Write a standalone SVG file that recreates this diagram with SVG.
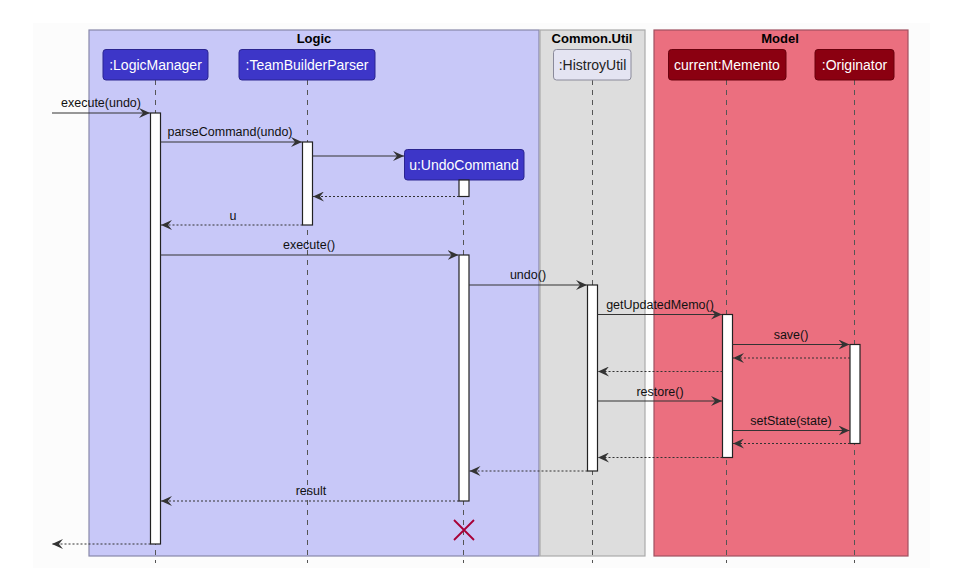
<svg xmlns="http://www.w3.org/2000/svg" width="959" height="570" viewBox="0 0 959 570">
<defs>
<style>
text{font-family:"Liberation Sans",Arial,sans-serif;}
.grp{stroke-width:1.2;}
.gt{font-size:13px;font-weight:bold;fill:#000;text-anchor:middle;}
.pt{font-size:14px;text-anchor:middle;fill:#fff;}
.ll{stroke:#555;stroke-width:1;stroke-dasharray:5,5;fill:none;}
.act{fill:#fff;stroke:#222;stroke-width:1.2;}
.msg{stroke:#333;stroke-width:1.2;fill:none;}
.ret{stroke:#333;stroke-width:1.2;fill:none;stroke-dasharray:2,2;}
.ml{font-size:12.5px;fill:#111;text-anchor:middle;}
</style>
<marker id="ah" viewBox="0 0 12 10" refX="11" refY="5" markerWidth="12" markerHeight="10" markerUnits="userSpaceOnUse" orient="auto">
<path d="M0,0 L11,5 L0,10 L4,5 Z" fill="#333"/>
</marker>
</defs>
<rect width="959" height="570" fill="#ffffff"/>
<rect x="33" y="23" width="897" height="545" fill="#fcfcfc"/>
<g id="group-logic">
<rect class="grp" x="89" y="30" width="450" height="526" fill="#C8C8F8" stroke="#8888aa"/>
<text class="gt" x="314" y="43">Logic</text>
</g>
<g id="group-common-util">
<rect class="grp" x="540" y="30" width="105" height="526" fill="#DDDDDD" stroke="#aaaaaa"/>
<text class="gt" x="592" y="43">Common.Util</text>
</g>
<g id="group-model">
<rect class="grp" x="654" y="30" width="254" height="526" fill="#EB6F7F" stroke="#a05060"/>
<text class="gt" x="780" y="43">Model</text>
</g>
<g id="lifelines">
<line class="ll" x1="155.5" y1="80" x2="155.5" y2="563"/>
<line class="ll" x1="307.5" y1="80" x2="307.5" y2="563"/>
<line class="ll" x1="463.5" y1="180" x2="463.5" y2="563"/>
<line class="ll" x1="592.5" y1="80" x2="592.5" y2="563"/>
<line class="ll" x1="726.5" y1="80" x2="726.5" y2="563"/>
<line class="ll" x1="854.5" y1="80" x2="854.5" y2="563"/>
</g>
<g id="LogicManager">
<rect x="103" y="49.5" width="105" height="30.5" rx="3" fill="#3D36C8" stroke="#2a2490"/>
<text class="pt" x="155.5" y="70">:LogicManager</text>
<rect class="act" x="150.5" y="113" width="10" height="431"/>
</g>
<g id="TeamBuilderParser">
<rect x="239" y="49.5" width="136" height="30.5" rx="3" fill="#3D36C8" stroke="#2a2490"/>
<text class="pt" x="307" y="70">:TeamBuilderParser</text>
<rect class="act" x="302.5" y="142" width="10" height="83"/>
</g>
<g id="UndoCommand">
<rect x="404.5" y="149.5" width="119.5" height="30.5" rx="3" fill="#3D36C8" stroke="#2a2490"/>
<text class="pt" x="464" y="170">u:UndoCommand</text>
<rect class="act" x="459" y="180" width="10" height="16.5"/>
<rect class="act" x="459" y="255" width="10" height="246"/>
</g>
<g id="HistroyUtil">
<rect x="553.5" y="49.5" width="77.5" height="30.5" rx="3" fill="#E4E4F2" stroke="#8a8a9a"/>
<text class="pt" x="592.5" y="70" style="fill:#222">:HistroyUtil</text>
<rect class="act" x="587.5" y="285" width="10" height="186"/>
</g>
<g id="Memento">
<rect x="668.5" y="49.5" width="117.5" height="30.5" rx="3" fill="#8B0011" stroke="#6a000c"/>
<text class="pt" x="727" y="70">current:Memento</text>
<rect class="act" x="722.5" y="314.5" width="10" height="143"/>
</g>
<g id="Originator">
<rect x="815" y="49.5" width="79" height="30.5" rx="3" fill="#8B0011" stroke="#6a000c"/>
<text class="pt" x="854.5" y="70">:Originator</text>
<rect class="act" x="850" y="344.5" width="10" height="99"/>
</g>
<g id="connectors">
<line class="msg" x1="52" y1="113" x2="150" y2="113" marker-end="url(#ah)"/>
<text class="ml" x="101" y="107">execute(undo)</text>
<line class="msg" x1="160.5" y1="142" x2="302" y2="142" marker-end="url(#ah)"/>
<text class="ml" x="230" y="136">parseCommand(undo)</text>
<line class="msg" x1="312.5" y1="156" x2="404" y2="156" marker-end="url(#ah)"/>
<line class="ret" x1="459" y1="196.5" x2="313" y2="196.5" marker-end="url(#ah)"/>
<line class="ret" x1="302.5" y1="225" x2="161" y2="225" marker-end="url(#ah)"/>
<text class="ml" x="233" y="220">u</text>
<line class="msg" x1="160.5" y1="255" x2="458.5" y2="255" marker-end="url(#ah)"/>
<text class="ml" x="309" y="249">execute()</text>
<line class="msg" x1="469" y1="285" x2="587" y2="285" marker-end="url(#ah)"/>
<text class="ml" x="528" y="279">undo()</text>
<line class="msg" x1="597.5" y1="314.5" x2="722" y2="314.5" marker-end="url(#ah)"/>
<text class="ml" x="660" y="309">getUpdatedMemo()</text>
<line class="msg" x1="732.5" y1="344.5" x2="849.5" y2="344.5" marker-end="url(#ah)"/>
<text class="ml" x="791" y="339">save()</text>
<line class="ret" x1="850" y1="358" x2="733" y2="358" marker-end="url(#ah)"/>
<line class="ret" x1="722.5" y1="371.5" x2="598" y2="371.5" marker-end="url(#ah)"/>
<line class="msg" x1="597.5" y1="401" x2="722" y2="401" marker-end="url(#ah)"/>
<text class="ml" x="660" y="396">restore()</text>
<line class="msg" x1="732.5" y1="430.5" x2="849.5" y2="430.5" marker-end="url(#ah)"/>
<text class="ml" x="791" y="425">setState(state)</text>
<line class="ret" x1="850" y1="443.5" x2="733" y2="443.5" marker-end="url(#ah)"/>
<line class="ret" x1="722.5" y1="457.5" x2="598" y2="457.5" marker-end="url(#ah)"/>
<line class="ret" x1="587.5" y1="471" x2="469.5" y2="471" marker-end="url(#ah)"/>
<line class="ret" x1="459" y1="501" x2="161" y2="501" marker-end="url(#ah)"/>
<text class="ml" x="311" y="495">result</text>
<line class="ret" x1="150.5" y1="544" x2="52" y2="544" marker-end="url(#ah)"/>
<path d="M454,520 L474,540 M474,520 L454,540" stroke="#A80036" stroke-width="1.8" fill="none"/>
</g>
</svg>
